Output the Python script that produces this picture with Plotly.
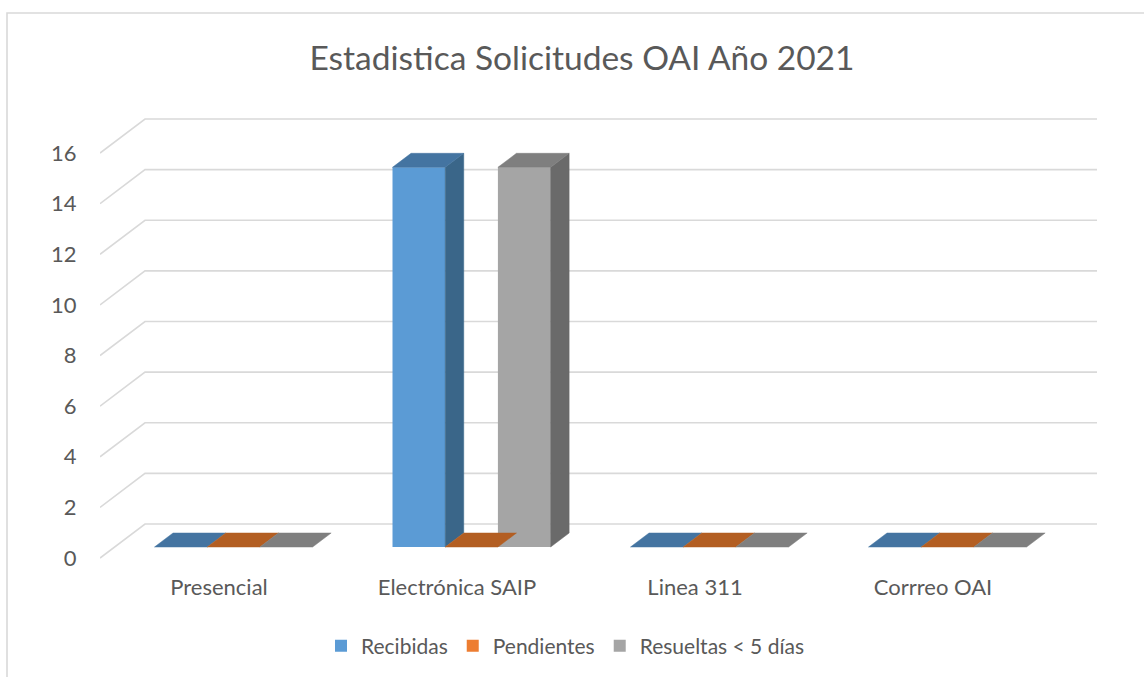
import plotly.graph_objects as go

# ---- data ----
categories = ["Presencial", "Electrónica SAIP", "Linea 311", "Corrreo OAI"]
series_names = ["Recibidas", "Pendientes", "Resueltas < 5 días"]
recibidas = [0, 15, 0, 0]
pendientes = [0, 0, 0, 0]
resueltas = [0, 15, 0, 0]
y_ticks = [0, 2, 4, 6, 8, 10, 12, 14, 16]

# ---- styling ----
front_colors = ["#5B9BD5", "#ED7D31", "#A5A5A5"]
top_colors = ["#4474A1", "#B35E22", "#7F7F7F"]
side_colors = ["#3A6689", "#9A501C", "#6A6A6A"]
FONT = "Lato"
TXT = "#595959"

W, H = 1144, 677
L, R, T, B = 100, 1100, 100, 566        # plot area in pixels
PX_X = 238.0                             # pixels per category
PX_Y = 25.3125                           # pixels per value unit
Y0_PX = 558                              # pixel row of value 0 (front plane)
DEPTH_DX = 45 / PX_X                     # full floor depth, x units
DEPTH_DY = 34 / PX_Y                     # full floor depth, y units
BAR_W = 52.7 / PX_X
Z0, Z1 = 11 / 34, 25 / 34                # bar depth span (fraction of floor)

x_range = [-0.5, -0.5 + (R - L) / PX_X]
y_range = [(Y0_PX - B) / PX_Y, (Y0_PX - T) / PX_Y]

series_values = [recibidas, pendientes, resueltas]

fig = go.Figure()

fx = Z0 * DEPTH_DX
fy = Z0 * DEPTH_DY
ddx = (Z1 - Z0) * DEPTH_DX
ddy = (Z1 - Z0) * DEPTH_DY

# front faces (bars)
for j, (name, vals) in enumerate(zip(series_names, series_values)):
    xs = [i + (j - 1) * BAR_W + fx for i in range(len(categories))]
    fig.add_trace(go.Bar(
        x=xs, y=vals, base=fy, width=BAR_W, name=name,
        marker=dict(color=front_colors[j], line=dict(width=0)),
        hoverinfo="skip",
    ))

# side and top faces
for j, vals in enumerate(series_values):
    sx, sy, tx, ty = [], [], [], []
    for i, v in enumerate(vals):
        xl = i + (j - 1) * BAR_W + fx - BAR_W / 2
        xr = xl + BAR_W
        yb = fy
        yt = fy + v
        if v > 0:
            sx += [xr, xr + ddx, xr + ddx, xr, xr, None]
            sy += [yb, yb + ddy, yt + ddy, yt, yb, None]
        tx += [xl, xr, xr + ddx, xl + ddx, xl, None]
        ty += [yt, yt, yt + ddy, yt + ddy, yt, None]
    if sx:
        fig.add_trace(go.Scatter(
            x=sx, y=sy, mode="lines", fill="toself", fillcolor=side_colors[j],
            line=dict(width=0.5, color=side_colors[j]), showlegend=False,
            hoverinfo="skip"))
    fig.add_trace(go.Scatter(
        x=tx, y=ty, mode="lines", fill="toself", fillcolor=top_colors[j],
        line=dict(width=0.5, color=top_colors[j]), showlegend=False,
        hoverinfo="skip"))

# perspective gridlines
shapes = []
x_left = x_range[0]
x_right = -0.5 + len(categories)
for v in y_ticks:
    path = (f"M {x_left},{v} L {x_left + DEPTH_DX},{v + DEPTH_DY} "
            f"L {x_right + DEPTH_DX},{v + DEPTH_DY}")
    shapes.append(dict(type="path", path=path, xref="x", yref="y",
                       line=dict(color="#D9D9D9", width=1.6), layer="below"))

# chart border
pw, ph = R - L, B - T
shapes.append(dict(type="rect", xref="paper", yref="paper",
                   x0=(7 - L) / pw, x1=(1160 - L) / pw,
                   y0=(B - 700) / ph, y1=(B - 13) / ph,
                   line=dict(color="#D9D9D9", width=1.6), layer="below"))

fig.update_layout(
    width=W, height=H,
    margin=dict(l=L, r=W - R, t=T, b=H - B),
    paper_bgcolor="white", plot_bgcolor="white",
    barmode="overlay",
    shapes=shapes,
    font=dict(family=FONT, size=22, color=TXT),
    title=dict(text="Estadistica Solicitudes OAI Año 2021",
               font=dict(family=FONT, size=33.5, color=TXT),
               x=582 / W, xanchor="center", xref="container",
               y=1 - 58 / H, yanchor="middle", yref="container"),
    legend=dict(orientation="h", xref="container", yref="container",
                x=321 / W, xanchor="left", y=1 - 646 / H, yanchor="middle",
                font=dict(size=21, color=TXT)),
    xaxis=dict(range=x_range, showgrid=False, zeroline=False, showline=False,
               tickmode="array", tickvals=list(range(len(categories))),
               ticktext=categories, ticks="outside", ticklen=2,
               tickcolor="rgba(0,0,0,0)", fixedrange=True),
    yaxis=dict(range=y_range, showgrid=False, zeroline=False, showline=False,
               tickmode="array", tickvals=y_ticks,
               ticktext=[str(v) for v in y_ticks], ticks="outside",
               ticklen=18, tickcolor="rgba(0,0,0,0)", fixedrange=True),
)

fig.write_html("out.html", config={"displayModeBar": False},
               post_script="document.body.style.margin='0';")
